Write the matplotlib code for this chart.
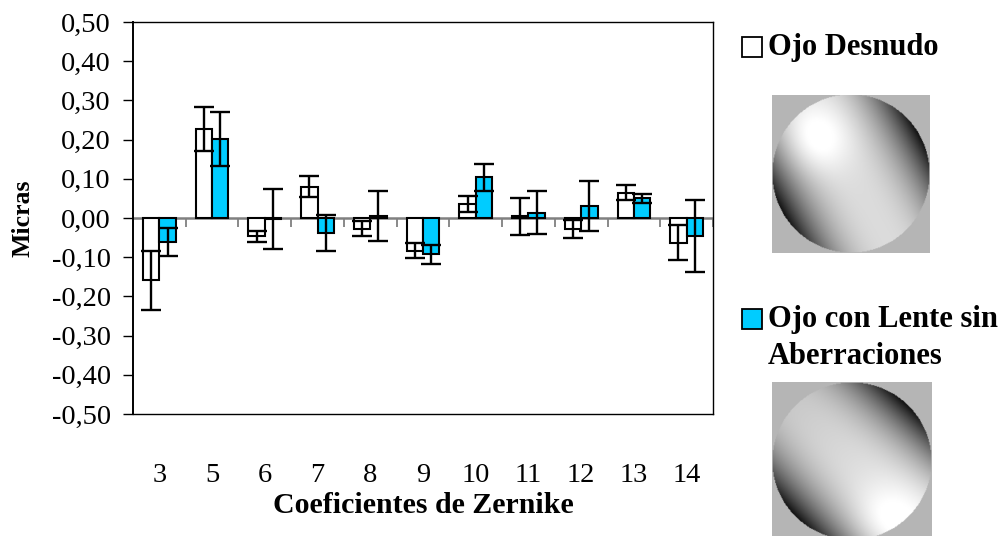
import numpy as np
import matplotlib
matplotlib.use('Agg')
import matplotlib.pyplot as plt
from matplotlib.patches import Rectangle
from matplotlib.ticker import FuncFormatter

plt.rcParams['font.family'] = ['Liberation Serif', 'DejaVu Serif']

# datos
coeficientes = ['3', '5', '6', '7', '8', '9', '10', '11', '12', '13', '14']
ojo_desnudo = [-0.159, 0.227, -0.047, 0.080, -0.027, -0.083, 0.035, 0.004, -0.028, 0.065, -0.063]
err_desnudo = [0.076, 0.056, 0.015, 0.026, 0.020, 0.019, 0.020, 0.048, 0.024, 0.020, 0.044]
ojo_lente = [-0.062, 0.202, -0.002, -0.038, 0.005, -0.093, 0.104, 0.014, 0.030, 0.050, -0.047]
err_lente = [0.036, 0.069, 0.076, 0.045, 0.064, 0.025, 0.034, 0.056, 0.064, 0.011, 0.092]

azul = '#00CCFF'

fig = plt.figure(figsize=(10.07, 5.36), dpi=100)
ax = fig.add_axes([133 / 1007, 1 - 414 / 536, 580 / 1007, 392 / 536])

x = np.arange(len(coeficientes))
w = 0.31
ekw = dict(ecolor='black', elinewidth=1.7, capsize=7.5, capthick=1.7)
ax.bar(x - w / 2, ojo_desnudo, w, color='white', edgecolor='black', linewidth=1.5,
       yerr=err_desnudo, error_kw=ekw, zorder=3)
ax.bar(x + w / 2, ojo_lente, w, color=azul, edgecolor='black', linewidth=1.5,
       yerr=err_lente, error_kw=ekw, zorder=3)

# eje en cero con marcas entre categorias
ax.axhline(0, color='#808080', lw=1.8, zorder=2)
bordes = np.arange(len(coeficientes) + 1) - 0.5
ax.vlines(bordes, -0.023, 0, color='#808080', lw=1.3, zorder=2)


def fmt(v, p):
    v = round(v, 2)
    if abs(v) < 1e-9:
        v = 0.0
    return f'{v:.2f}'.replace('.', ',')


ax.set_xlim(-0.5, len(coeficientes) - 0.5)
ax.set_ylim(-0.5, 0.5)
ax.set_yticks(np.arange(-0.5, 0.51, 0.1))
ax.yaxis.set_major_formatter(FuncFormatter(fmt))
ax.set_xticks(x)
ax.set_xticklabels(coeficientes)
ax.tick_params(axis='x', length=0, pad=35, labelsize=20.5)
ax.tick_params(axis='y', length=7, width=1, pad=9, labelsize=20.5, direction='out')

for s in ax.spines.values():
    s.set_color('black')
    s.set_linewidth(1.0)
ax.spines['left'].set_linewidth(1.4)

ax.set_xlabel('Coeficientes de Zernike', fontsize=21.5, fontweight='bold', labelpad=3)
ax.set_ylabel('Micras', fontsize=18.5, fontweight='bold', labelpad=12)

# leyenda
fig.patches.append(Rectangle((742 / 1007, 1 - 57 / 536), 20 / 1007, 20 / 536,
                             transform=fig.transFigure, facecolor='white', edgecolor='black', lw=1.3))
fig.text(768 / 1007, 1 - 47 / 536, 'Ojo Desnudo', fontsize=22, fontweight='bold', va='center')
fig.patches.append(Rectangle((742 / 1007, 1 - 329 / 536), 20 / 1007, 20 / 536,
                             transform=fig.transFigure, facecolor=azul, edgecolor='black', lw=1.3))
fig.text(768 / 1007, 1 - 320 / 536, 'Ojo con Lente sin', fontsize=22, fontweight='bold', va='center')
fig.text(768 / 1007, 1 - 357 / 536, 'Aberraciones', fontsize=22, fontweight='bold', va='center')


# mapas de frente de onda (ilustrativos)
def mapa(dx, dy, hx, hy, brillo, grad):
    n = 200
    u = np.linspace(-1, 1, n)
    X, Y = np.meshgrid(u, u)
    d = X * dx + Y * dy
    z = 0.86 - 0.8 * np.abs(d) ** 2.4 + brillo * np.exp(-((X - hx) ** 2 + (Y - hy) ** 2) / 0.2) + grad * (X + Y)
    z = np.clip(z, 0.03, 1.0)
    z[X ** 2 + Y ** 2 > 1] = 0.71
    return np.dstack([z, z, z])


ax_i1 = fig.add_axes([772 / 1007, 1 - 253 / 536, 158 / 1007, 158 / 536])
ax_i1.imshow(mapa(0.877, -0.481, -0.45, -0.45, 0.18, 0.0), interpolation='bilinear', aspect='auto')
ax_i1.axis('off')

ax_i2 = fig.add_axes([772 / 1007, 1 - 540 / 536, 160 / 1007, 158 / 536])
ax_i2.imshow(mapa(0.707, -0.707, 0.45, 0.75, 0.12, 0.05), interpolation='bilinear', aspect='auto')
ax_i2.axis('off')

fig.savefig('out.png', dpi=100)
